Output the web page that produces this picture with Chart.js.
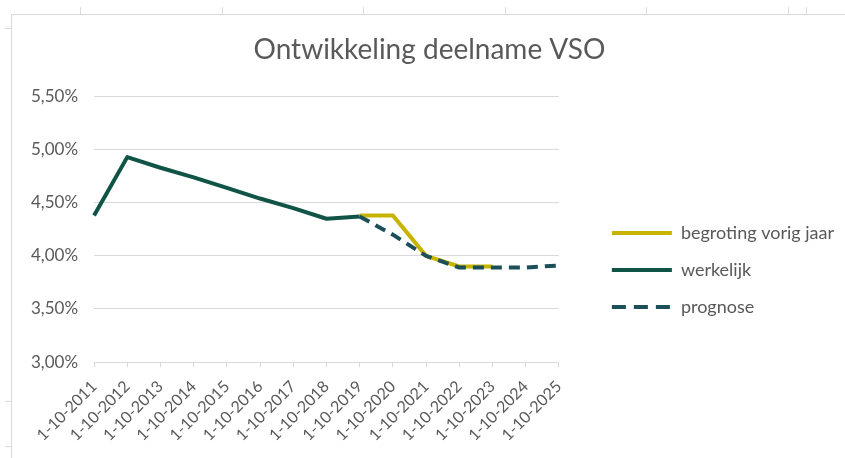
<!DOCTYPE html>
<html>
<head>
<meta charset="utf-8">
<script src="https://cdn.jsdelivr.net/npm/chart.js@4"></script>
<style>
  html, body { margin: 0; padding: 0; background: #fff; }
  #wrap { position: relative; width: 845px; height: 458px; overflow: hidden; }
  /* excel sheet lines behind the chart */
  .rand { position: absolute; background: #d9d9d9; }
  #grafico { position: absolute; left: 0; top: 0; }
</style>
</head>
<body>
<div id="wrap">
  <div class="rand" style="left:11px; top:14px; width:834px; height:1px;"></div>
  <div class="rand" style="left:11px; top:14px; width:1px; height:444px;"></div>
  <div class="rand" style="left:80px; top:7px; width:1px; height:7px;"></div>
  <div class="rand" style="left:222px; top:7px; width:1px; height:7px;"></div>
  <div class="rand" style="left:363px; top:7px; width:1px; height:7px;"></div>
  <div class="rand" style="left:505px; top:7px; width:1px; height:7px;"></div>
  <div class="rand" style="left:646px; top:7px; width:1px; height:7px;"></div>
  <div class="rand" style="left:788px; top:7px; width:1px; height:7px;"></div>
  <div class="rand" style="left:806px; top:7px; width:1px; height:7px;"></div>
  <div class="rand" style="left:5px; top:28px; width:6px; height:1px;"></div>
  <div class="rand" style="left:5px; top:401px; width:6px; height:1px;"></div>
  <div class="rand" style="left:5px; top:446px; width:6px; height:1px;"></div>
  <canvas id="grafico" width="845" height="458"></canvas>
</div>
<script>
// peildata
const jaren = ['1-10-2011', '1-10-2012', '1-10-2013', '1-10-2014', '1-10-2015',
    '1-10-2016', '1-10-2017', '1-10-2018', '1-10-2019', '1-10-2020',
    '1-10-2021', '1-10-2022', '1-10-2023', '1-10-2024', '1-10-2025'];

// percentages deelname VSO
const begroting = [null, null, null, null, null, null, null, null, 4.38, 4.38, 4.00, 3.90, 3.90, null, null];
const werkelijk = [4.38, 4.93, 4.83, 4.74, 4.64, 4.54, 4.45, 4.35, 4.37, null, null, null, null, null, null];
const prognose = [null, null, null, null, null, null, null, null, 4.37, 4.20, 4.00, 3.89, 3.89, 3.89, 3.91];

const yTicks = [3.0, 3.5, 4.0, 4.5, 5.0, 5.5];

const fmt = (v) => v.toFixed(2).replace('.', ',') + '%';

const ctx = document.getElementById('grafico').getContext('2d');

const grafico = new Chart(ctx, {
    type: 'line',
    data: {
        labels: jaren,
        datasets: [{
            label: 'begroting vorig jaar',
            data: begroting,
            borderColor: '#c8b400',
            backgroundColor: '#c8b400',
            borderWidth: 4,
            order: 3 // onderop
        }, {
            label: 'werkelijk',
            data: werkelijk,
            borderColor: '#0f5446',
            backgroundColor: '#0f5446',
            borderWidth: 4,
            order: 2
        }, {
            label: 'prognose',
            data: prognose,
            borderColor: '#1b4f5a',
            backgroundColor: '#1b4f5a',
            borderWidth: 4,
            borderDash: [11, 7],
            order: 1
        }]
    },
    options: {
        responsive: false,
        animation: false,
        elements: {
            point: { radius: 0, hoverRadius: 0 },
            line: { tension: 0, borderCapStyle: 'butt', borderJoinStyle: 'round' }
        },
        layout: {
            padding: { left: 15, right: 1, top: 33, bottom: 3 }
        },
        plugins: {
            title: {
                display: true,
                text: 'Ontwikkeling deelname VSO',
                color: '#595959',
                font: { family: 'Lato', size: 28, weight: 'normal' },
                padding: { top: 0, bottom: 30 }
            },
            legend: {
                position: 'right',
                maxWidth: 400, // anders wordt de legenda afgekapt
                title: {
                    display: true,
                    text: '',
                    font: { size: 10 },
                    padding: { top: 0, bottom: 40 }
                },
                labels: {
                    usePointStyle: true,
                    pointStyle: 'line',
                    pointStyleWidth: 60,
                    boxHeight: 4,
                    color: '#595959',
                    font: { family: 'Lato', size: 18 },
                    padding: 19,
                    sort: (a, b) => a.datasetIndex - b.datasetIndex,
                    // streepjes ook in de legenda
                    generateLabels: (chart) => Chart.defaults.plugins.legend.labels.generateLabels(chart)
                        .map(item => ({
                            ...item,
                            lineWidth: 4,
                            lineDash: chart.data.datasets[item.datasetIndex].borderDash ? [14, 8] : []
                        }))
                }
            },
            tooltip: { enabled: false }
        },
        scales: {
            x: {
                offset: false,
                grid: {
                    drawOnChartArea: false,
                    drawTicks: true,
                    tickLength: 5,
                    color: '#d9d9d9'
                },
                border: { color: '#d9d9d9', width: 1 },
                ticks: {
                    autoSkip: false,
                    maxRotation: 45,
                    minRotation: 45,
                    color: '#595959',
                    font: { family: 'Lato', size: 16 },
                    padding: 10
                }
            },
            y: {
                min: 3.0,
                max: 5.5,
                afterBuildTicks: (axis) => { axis.ticks = yTicks.map(v => ({ value: v })); },
                grid: {
                    color: '#d9d9d9',
                    drawTicks: false
                },
                border: { display: false },
                ticks: {
                    color: '#595959',
                    font: { family: 'Lato', size: 17 },
                    padding: 16,
                    callback: (v) => fmt(v)
                }
            },
            // lege ruimte tussen plot en legenda
            ruimte: {
                type: 'linear',
                position: 'right',
                grid: { display: false },
                border: { display: false },
                ticks: { display: false },
                afterFit: (axis) => { axis.width = 34; }
            }
        }
    }
});
</script>
</body>
</html>
